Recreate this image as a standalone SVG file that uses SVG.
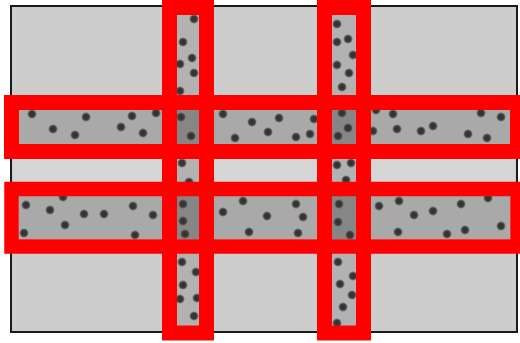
<svg xmlns="http://www.w3.org/2000/svg" width="520" height="343" viewBox="0 0 520 343">
<defs>
<radialGradient id="dg">
<stop offset="0" stop-color="#2e2e2e"/>
<stop offset="0.6" stop-color="#3c3c3c"/>
<stop offset="1" stop-color="#3c3c3c" stop-opacity="0"/>
</radialGradient>
<style>
.bg{fill:#cdcdcd;stroke:#1a1a1a;stroke-width:2}
.gap{fill:#d6d6d6}
.hb{fill:#a9a9a9}
.vb{fill:#b2b2b2}
.x{fill:#868686}
.fr{fill:none;stroke:#ff0000;stroke-width:15}
.d{fill:url(#dg)}
</style>
</defs>
<g id="substrate">
<rect class="bg" x="11" y="6" width="506" height="326"/>
<rect class="gap" x="13" y="159" width="502" height="23"/>
</g>
<g id="band-top">
<rect class="hb" x="19" y="110" width="491" height="34"/>
</g>
<g id="band-bottom">
<rect class="hb" x="19" y="196" width="491" height="43"/>
</g>
<g id="column-left">
<rect class="vb" x="177" y="15" width="22" height="311"/>
<rect class="x" x="177" y="110" width="22" height="34"/>
<rect class="x" x="177" y="196" width="22" height="43"/>
</g>
<g id="column-right">
<rect class="vb" x="332" y="15" width="24" height="311"/>
<rect class="x" x="332" y="110" width="24" height="34"/>
<rect class="x" x="332" y="196" width="24" height="43"/>
</g>
<g id="particles">
<circle class="d" cx="32" cy="114" r="5"/><circle class="d" cx="53" cy="129" r="5"/><circle class="d" cx="75" cy="135" r="5"/><circle class="d" cx="86" cy="117" r="5"/><circle class="d" cx="121" cy="127" r="5"/><circle class="d" cx="132" cy="116" r="5"/><circle class="d" cx="143" cy="133" r="5"/><circle class="d" cx="156" cy="113" r="5"/>
<circle class="d" cx="181" cy="117" r="5"/><circle class="d" cx="191" cy="136" r="5"/>
<circle class="d" cx="223" cy="114" r="5"/><circle class="d" cx="252" cy="122" r="5"/><circle class="d" cx="235" cy="138" r="5"/><circle class="d" cx="279" cy="118" r="5"/><circle class="d" cx="268" cy="132" r="5"/><circle class="d" cx="296" cy="137" r="5"/><circle class="d" cx="310" cy="134" r="5"/><circle class="d" cx="314" cy="119" r="5"/>
<circle class="d" cx="342" cy="113" r="5"/><circle class="d" cx="348" cy="128" r="5"/><circle class="d" cx="338" cy="136" r="5"/>
<circle class="d" cx="376" cy="110" r="5"/><circle class="d" cx="393" cy="114" r="5"/><circle class="d" cx="373" cy="131" r="5"/><circle class="d" cx="397" cy="129" r="5"/><circle class="d" cx="421" cy="131" r="5"/><circle class="d" cx="433" cy="126" r="5"/><circle class="d" cx="468" cy="134" r="5"/><circle class="d" cx="481" cy="113" r="5"/><circle class="d" cx="487" cy="138" r="5"/><circle class="d" cx="501" cy="117" r="5"/>
<circle class="d" cx="194" cy="19" r="5"/><circle class="d" cx="183" cy="42" r="5"/><circle class="d" cx="192" cy="58" r="5"/><circle class="d" cx="180" cy="64" r="5"/><circle class="d" cx="194" cy="73" r="5"/><circle class="d" cx="180" cy="91" r="5"/>
<circle class="d" cx="337" cy="24" r="5"/><circle class="d" cx="337" cy="42" r="5"/><circle class="d" cx="348" cy="39" r="5"/><circle class="d" cx="353" cy="55" r="5"/><circle class="d" cx="337" cy="65" r="5"/><circle class="d" cx="349" cy="73" r="5"/><circle class="d" cx="342" cy="87" r="5"/>
<circle class="d" cx="182" cy="163" r="5"/><circle class="d" cx="189" cy="182" r="5"/>
<circle class="d" cx="337" cy="165" r="5"/><circle class="d" cx="351" cy="163" r="5"/><circle class="d" cx="346" cy="180" r="5"/>
<circle class="d" cx="63" cy="197" r="5"/><circle class="d" cx="26" cy="205" r="5"/><circle class="d" cx="50" cy="210" r="5"/><circle class="d" cx="84" cy="214" r="5"/><circle class="d" cx="104" cy="214" r="5"/><circle class="d" cx="133" cy="206" r="5"/><circle class="d" cx="153" cy="215" r="5"/><circle class="d" cx="65" cy="225" r="5"/><circle class="d" cx="24" cy="233" r="5"/><circle class="d" cx="135" cy="235" r="5"/>
<circle class="d" cx="183" cy="204" r="5"/><circle class="d" cx="183" cy="221" r="5"/><circle class="d" cx="185" cy="234" r="5"/>
<circle class="d" cx="223" cy="212" r="5"/><circle class="d" cx="243" cy="201" r="5"/><circle class="d" cx="249" cy="232" r="5"/><circle class="d" cx="267" cy="216" r="5"/><circle class="d" cx="296" cy="204" r="5"/><circle class="d" cx="303" cy="217" r="5"/><circle class="d" cx="298" cy="233" r="5"/>
<circle class="d" cx="339" cy="204" r="5"/><circle class="d" cx="338" cy="222" r="5"/><circle class="d" cx="350" cy="235" r="5"/>
<circle class="d" cx="379" cy="206" r="5"/><circle class="d" cx="399" cy="201" r="5"/><circle class="d" cx="414" cy="215" r="5"/><circle class="d" cx="433" cy="211" r="5"/><circle class="d" cx="461" cy="204" r="5"/><circle class="d" cx="488" cy="198" r="5"/><circle class="d" cx="398" cy="232" r="5"/><circle class="d" cx="447" cy="234" r="5"/><circle class="d" cx="465" cy="230" r="5"/><circle class="d" cx="501" cy="226" r="5"/>
<circle class="d" cx="182" cy="262" r="5"/><circle class="d" cx="196" cy="272" r="5"/><circle class="d" cx="183" cy="285" r="5"/><circle class="d" cx="180" cy="299" r="5"/><circle class="d" cx="197" cy="298" r="5"/><circle class="d" cx="194" cy="316" r="5"/>
<circle class="d" cx="338" cy="262" r="5"/><circle class="d" cx="353" cy="276" r="5"/><circle class="d" cx="340" cy="284" r="5"/><circle class="d" cx="352" cy="295" r="5"/><circle class="d" cx="343" cy="307" r="5"/><circle class="d" cx="337" cy="323" r="5"/>
</g>
<g id="frames">
<rect class="fr" x="11.5" y="102.5" width="506" height="49"/>
<rect class="fr" x="11.5" y="189" width="506" height="57.5" style="stroke-width:14.5"/>
<rect class="fr" x="169.5" y="7.5" width="37" height="325.5"/>
<rect class="fr" x="324.5" y="7.5" width="39" height="325.5"/>
</g>
</svg>
